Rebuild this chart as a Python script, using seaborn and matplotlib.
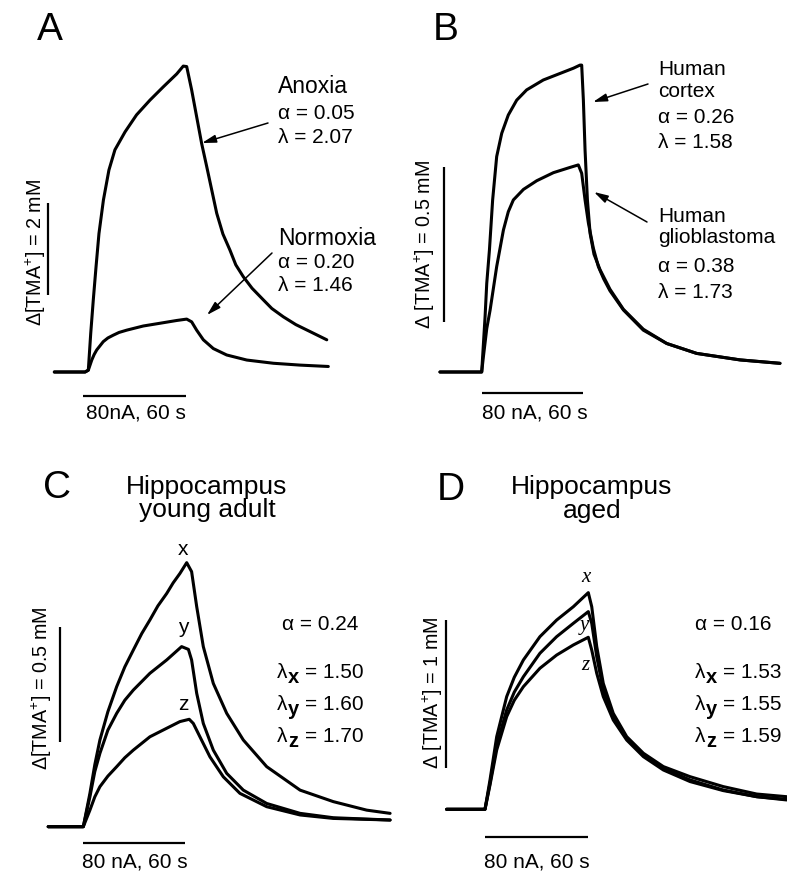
import matplotlib
matplotlib.use("Agg")
import matplotlib.pyplot as plt
import numpy as np
import pandas as pd
import seaborn as sns

# ---------------- data (time in s, concentration in mM) ----------------
# Panel A
A_anoxia_t = [-16.7, 1.2, 3.1, 4.5, 6.0, 7.6, 9.3, 11.9, 15.1, 18.6, 24.5, 31.2, 39.0, 46.8,
              54.6, 58.4, 60.4, 63.3, 66.2, 69.1, 72.1, 77.9, 81.5, 85.6, 89.0, 93.4, 98.5,
              105.0, 110.0, 116.7, 124.0, 132.2, 142.0]
A_anoxia_c = [0.0, 0.0, 0.04, 0.84, 1.57, 2.29, 3.01, 3.74, 4.39, 4.83, 5.22, 5.59, 5.91, 6.20,
              6.48, 6.65, 6.64, 6.13, 5.55, 4.97, 4.46, 3.45, 3.00, 2.65, 2.33, 2.07, 1.82,
              1.57, 1.38, 1.20, 1.03, 0.88, 0.70]
A_normoxia_t = [-16.7, 1.2, 3.1, 5.1, 6.5, 8.0, 11.8, 14.5, 17.6, 21.0, 25.5, 35.1, 44.9, 54.6,
                60.4, 63.3, 66.2, 70.1, 75.9, 83.7, 95.4, 110.9, 126.4, 142.9]
A_normoxia_c = [0.0, 0.0, 0.04, 0.26, 0.38, 0.48, 0.66, 0.74, 0.80, 0.86, 0.91, 1.00, 1.06,
                1.12, 1.15, 1.09, 0.91, 0.70, 0.51, 0.37, 0.26, 0.19, 0.15, 0.12]

# Panel B
B_cortex_t = [-24.8, -0.5, 0.0, 2.0, 3.0, 4.6, 6.5, 8.9, 11.9, 15.8, 20.8, 26.7, 36.6, 46.5,
              54.5, 58.4, 59.4, 60.4, 61.4, 62.8, 64.4, 66.7, 70.3, 76.2, 84.2, 96.0, 109.9,
              127.7, 153.5, 177.2]
B_cortex_c = [0.0, 0.0, 0.0, 0.178, 0.286, 0.394, 0.555, 0.695, 0.770, 0.829, 0.877, 0.910,
              0.942, 0.963, 0.980, 0.990, 0.990, 0.877, 0.716, 0.555, 0.447, 0.380, 0.330,
              0.267, 0.202, 0.138, 0.092, 0.060, 0.039, 0.028]
B_glio_t = [-24.8, -0.5, 0.0, 1.0, 3.0, 5.0, 8.9, 12.9, 15.8, 18.8, 24.8, 32.7, 42.6, 52.5,
            57.4, 59.4, 61.4, 63.4, 66.3, 69.3, 72.5, 76.2, 84.2, 96.0, 109.9, 127.7, 153.5,
            177.2]
B_glio_c = [0.0, 0.0, 0.0, 0.049, 0.140, 0.200, 0.340, 0.458, 0.517, 0.555, 0.589, 0.617,
            0.643, 0.660, 0.668, 0.641, 0.555, 0.480, 0.400, 0.340, 0.300, 0.262, 0.200,
            0.135, 0.092, 0.060, 0.039, 0.028]

# Panel C
C_x_t = [-20.7, 0.0, 3.9, 6.8, 9.8, 14.5, 19.7, 24.5, 29.5, 34.5, 39.3, 44.0, 49.2, 53.0,
         57.0, 61.0, 63.9, 66.9, 70.8, 76.7, 84.6, 94.4, 108.2, 127.9, 147.5, 167.2, 181.0]
C_x_c = [0.0, 0.0, 0.145, 0.27, 0.377, 0.50, 0.609, 0.695, 0.768, 0.84, 0.899, 0.96, 1.014,
         1.06, 1.101, 1.148, 1.109, 0.957, 0.783, 0.623, 0.493, 0.377, 0.261, 0.159, 0.109,
         0.072, 0.058]
C_y_t = [-20.7, 0.0, 3.9, 6.8, 9.8, 14.5, 19.7, 24.5, 29.5, 39.3, 49.2, 58.0, 62.0, 63.9,
         66.9, 70.8, 76.7, 84.6, 94.4, 108.2, 127.9, 147.5, 181.0]
C_y_c = [0.0, 0.0, 0.130, 0.24, 0.319, 0.42, 0.493, 0.55, 0.594, 0.667, 0.725, 0.783, 0.771,
         0.725, 0.580, 0.449, 0.333, 0.232, 0.159, 0.101, 0.058, 0.039, 0.029]
C_z_t = [-20.7, 0.0, 3.9, 6.8, 9.8, 14.5, 19.7, 24.5, 29.5, 39.3, 49.2, 57.0, 62.5, 64.9,
         68.8, 74.7, 82.6, 92.4, 108.2, 127.9, 147.5, 181.0]
C_z_c = [0.0, 0.0, 0.072, 0.13, 0.174, 0.22, 0.261, 0.30, 0.333, 0.391, 0.428, 0.457, 0.467,
         0.449, 0.391, 0.304, 0.217, 0.145, 0.087, 0.051, 0.036, 0.029]

# Panel D
D_t = [-22.3, 0.0, 2.9, 6.8, 12.6, 17.0, 22.3, 31.9, 41.6, 51.3, 60.0, 62.0, 64.9, 68.7,
       74.5, 82.3, 92.0, 103.6, 119.1, 138.4, 157.8, 175.2]
D_x_c = [0.0, 0.0, 0.198, 0.490, 0.760, 0.890, 1.007, 1.164, 1.276, 1.366, 1.461, 1.366,
         1.097, 0.849, 0.647, 0.490, 0.378, 0.288, 0.220, 0.153, 0.103, 0.085]
D_y_c = [0.0, 0.0, 0.175, 0.434, 0.670, 0.790, 0.894, 1.052, 1.164, 1.254, 1.333, 1.254,
         1.029, 0.804, 0.625, 0.479, 0.366, 0.276, 0.198, 0.130, 0.085, 0.067]
D_z_c = [0.0, 0.0, 0.164, 0.400, 0.625, 0.735, 0.827, 0.951, 1.040, 1.108, 1.160, 1.074,
         0.917, 0.760, 0.602, 0.467, 0.355, 0.265, 0.187, 0.126, 0.085, 0.063]

STIM_DURATION = 60  # s
SCALE_A, SCALE_B, SCALE_C, SCALE_D = 2.0, 0.5, 0.5, 1.0  # mM

# ---------------- style ----------------
sns.set_theme(style="white")
plt.rcParams["font.family"] = ["Liberation Sans", "DejaVu Sans"]
plt.rcParams["mathtext.fontset"] = "custom"
plt.rcParams["mathtext.rm"] = "Liberation Sans"
plt.rcParams["mathtext.it"] = "Liberation Sans:italic"
plt.rcParams["mathtext.bf"] = "Liberation Sans:bold"

W, H = 787, 873
fig = plt.figure(figsize=(W / 100, H / 100), dpi=100)
fig.patch.set_facecolor("white")

FS = 15
FS_H = 16.5
FS_T = 19
FS_Y = 14.2
FS_L = 28
LW = 2.2


def P(x, y):
    return (x / W, 1 - y / H)


def make_ax(region, x0, y0, sx, sy):
    L, T, R, B = region
    ax = fig.add_axes([L / W, 1 - B / H, (R - L) / W, (B - T) / H])
    ax.set_xlim((L - x0) / sx, (R - x0) / sx)
    ax.set_ylim((y0 - B) / sy, (y0 - T) / sy)
    ax.axis("off")
    ax.patch.set_alpha(0)
    return ax, (lambda px: (px - x0) / sx), (lambda py: (y0 - py) / sy)


def draw_traces(ax, traces):
    frames = []
    for name, t, c in traces:
        frames.append(pd.DataFrame({"t": t, "c": c, "trace": name}))
    df = pd.concat(frames, ignore_index=True)
    sns.lineplot(data=df, x="t", y="c", units="trace", estimator=None, sort=False,
                 color="black", lw=LW, ax=ax, legend=False,
                 solid_joinstyle="round", solid_capstyle="round")
    ax.set_xlabel("")
    ax.set_ylabel("")


def scale_bars(ax, tx, cy, bar_y_px, vbar_x_px, vbar_bottom_px, vlen):
    yb = cy(bar_y_px)
    ax.plot([0, STIM_DURATION], [yb, yb], color="black", lw=1.6, solid_capstyle="butt")
    xv = tx(vbar_x_px)
    y0 = cy(vbar_bottom_px)
    ax.plot([xv, xv], [y0, y0 + vlen], color="black", lw=1.6, solid_capstyle="butt")


def txt(x, y, s, size=FS, ha="left", va="baseline", **kw):
    fig.text(*P(x, y), s, fontsize=size, ha=ha, va=va, color="black", **kw)


def lam(x, y, sub, value):
    txt(x, y, "λ")
    txt(x + 11, y + 5, sub, size=FS - 0.5, weight="bold")
    txt(x + 28, y, "= " + value)


def arrow(x1, y1, x2, y2):
    fig.add_artist(matplotlib.patches.FancyArrowPatch(
        P(x1, y1), P(x2, y2), transform=fig.transFigure,
        arrowstyle="-|>,head_length=0.6,head_width=0.17", mutation_scale=14,
        lw=1.1, color="black", shrinkA=0, shrinkB=0))


# ---------------- Panel A ----------------
axA, txA, cyA = make_ax((0, 0, 393, 436), 83, 372, 103 / 60, 46)
draw_traces(axA, [("anoxia", A_anoxia_t, A_anoxia_c), ("normoxia", A_normoxia_t, A_normoxia_c)])
scale_bars(axA, txA, cyA, 396, 48, 295, SCALE_A)
txt(37, 40, "A", size=FS_L)
txt(278, 93, "Anoxia", size=FS_H)
txt(278, 119, "α = 0.05")
txt(278, 143, "λ = 2.07")
txt(278, 245, "Normoxia", size=FS_H)
txt(278, 268, "α = 0.20")
txt(278, 291, "λ = 1.46")
arrow(268, 123, 202, 143)
arrow(272, 253, 207, 315)
txt(136, 418, "80nA, 60 s", ha="center")
txt(36, 253, r"Δ[TMA$^{+}$] = 2 mM", size=FS_Y, ha="center", va="center", rotation=90)

# ---------------- Panel B ----------------
axB, txB, cyB = make_ax((393, 0, 787, 436), 481.7, 372, 101 / 60, 310)
draw_traces(axB, [("cortex", B_cortex_t, B_cortex_c), ("glio", B_glio_t, B_glio_c)])
scale_bars(axB, txB, cyB, 393, 444, 322, SCALE_B)
txt(433, 40, "B", size=FS_L)
txt(658, 75, "Human")
txt(658, 97, "cortex")
txt(658, 123, "α = 0.26")
txt(658, 148, "λ = 1.58")
txt(658, 222, "Human")
txt(658, 243, "glioblastoma")
txt(658, 272, "α = 0.38")
txt(658, 298, "λ = 1.73")
arrow(648, 84, 593, 102)
arrow(647, 222, 594, 192)
txt(535, 418, "80 nA, 60 s", ha="center")
txt(425, 245, r"Δ [TMA$^{+}$] = 0.5 mM", size=FS_Y, ha="center", va="center", rotation=90)

# ---------------- Panel C ----------------
axC, txC, cyC = make_ax((0, 436, 393, 873), 83.3, 826.7, 101.7 / 60, 230)
draw_traces(axC, [("x", C_x_t, C_x_c), ("y", C_y_t, C_y_c), ("z", C_z_t, C_z_c)])
scale_bars(axC, txC, cyC, 842.7, 60, 741.7, SCALE_C)
txt(43, 498, "C", size=FS_L)
txt(207, 494, "Hippocampus", size=FS_T, ha="center")
txt(207, 517, "young adult", size=FS_T, ha="center")
txt(183, 555, "x", ha="center")
txt(183, 633, "y", ha="center")
txt(183, 710, "z", ha="center")
txt(282, 630, "α = 0.24")
lam(277, 678, "x", "1.50")
lam(277, 710, "y", "1.60")
lam(277, 742, "z", "1.70")
txt(135, 867, "80 nA, 60 s", ha="center")
txt(42, 688, r"Δ[TMA$^{+}$] = 0.5 mM", size=FS_Y, ha="center", va="center", rotation=90)

# ---------------- Panel D ----------------
axD, txD, cyD = make_ax((393, 436, 787, 873), 485, 809.3, 103.3 / 60, 148.3)
draw_traces(axD, [("x", D_t, D_x_c), ("y", D_t, D_y_c), ("z", D_t, D_z_c)])
scale_bars(axD, txD, cyD, 836.7, 446, 768.3, SCALE_D)
txt(437, 500, "D", size=FS_L)
txt(592, 494, "Hippocampus", size=FS_T, ha="center")
txt(592, 518, "aged", size=FS_T, ha="center")
for lab, xx, yy in [("x", 586, 582), ("y", 584, 630), ("z", 585, 670)]:
    fig.text(*P(xx, yy), lab, fontsize=FS, ha="center", va="baseline",
             family=["Liberation Serif"], style="italic", color="black")
txt(695, 630, "α = 0.16")
lam(695, 678, "x", "1.53")
lam(695, 710, "y", "1.55")
lam(695, 742, "z", "1.59")
txt(537, 867, "80 nA, 60 s", ha="center")
txt(433, 693, r"Δ [TMA$^{+}$] = 1 mM", size=FS_Y, ha="center", va="center", rotation=90)

fig.savefig("out.png", dpi=100, facecolor="white")
